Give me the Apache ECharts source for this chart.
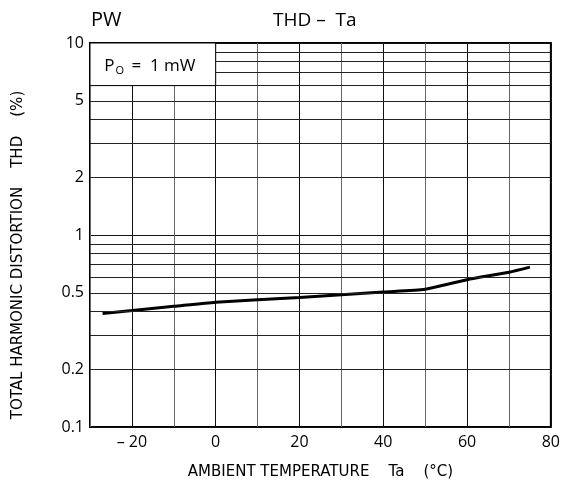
<!DOCTYPE html>
<html lang="en">
<head>
<meta charset="utf-8">
<script src="https://cdn.jsdelivr.net/npm/echarts@6/dist/echarts.min.js"></script>
<title>THD - Ta</title>
</head>
<body>
<style>
    html, body, #main {
        width: 100%;
        height: 100%;
        margin: 0;
        background: #fff;
    }
</style>
<div id="main"></div>
<script>
    // curve
    var temps = [-27, -10, 0, 20, 40, 50, 60, 70, 75];
    var thd = [0.39, 0.425, 0.447, 0.472, 0.505, 0.522, 0.585, 0.64, 0.68];
    var xTicks = [-20, 0, 20, 40, 60, 80];
    var yTicks = [0.1, 0.2, 0.5, 1, 2, 5, 10];
    var minorLines = [0.2, 0.3, 0.4, 0.5, 0.6, 0.7, 0.8, 0.9, 2, 3, 4, 5, 6, 7, 8, 9];

    var font = 'Open Sans';
    var nameFont = 'DejaVu Sans';
    var chart = echarts.init(document.getElementById('main'));

    var points = temps.map(function (t, i) { return [t, thd[i]]; });

    var gridMarks = minorLines.map(function (v) {
        var lbl = yTicks.indexOf(v) >= 0;
        return {
            yAxis: v,
            label: {
                show: lbl,
                position: 'start',
                formatter: String(v),
                distance: 6,
                color: '#000',
                fontFamily: font,
                fontSize: 16
            }
        };
    });

    var option = {
        animation: false,
        title: [{
            text: 'PW',
            left: 86, top: 5,
            textStyle: {fontFamily: font, fontSize: 20, fontWeight: 'normal', color: '#000'}
        }, {
            text: 'THD –  Ta',
            left: 268, top: 6,
            textStyle: {fontFamily: font, fontSize: 19, fontWeight: 'normal', color: '#000'}
        }],
        grid: {
            left: 90, right: 12, top: 43, bottom: 63,
            show: true, borderColor: '#000', borderWidth: 2
        },
        xAxis: {
            type: 'value', min: -30, max: 80, interval: 10,
            name: 'AMBIENT TEMPERATURE    Ta    (°C)',
            nameLocation: 'middle', nameGap: 38,
            nameTextStyle: {fontFamily: nameFont, fontSize: 15, color: '#000'},
            axisLine: {show: false},
            axisTick: {show: false},
            axisLabel: {
                fontFamily: font, fontSize: 16, color: '#000', margin: 7,
                formatter: function (v) {
                    if (xTicks.indexOf(v) < 0) return '';
                    return v < 0 ? '– ' + Math.abs(v) : String(v);
                }
            },
            splitLine: {show: true, lineStyle: {color: ['#666', '#111'], width: 1}}
        },
        yAxis: {
            type: 'log', logBase: 10, min: 0.1, max: 10,
            name: 'TOTAL HARMONIC DISTORTION    THD    (%)',
            nameLocation: 'middle', nameGap: 64,
            nameTextStyle: {fontFamily: nameFont, fontSize: 15, color: '#000', padding: [0, 40, 0, 0]},
            axisLine: {show: false},
            axisTick: {show: false},
            axisLabel: {fontFamily: font, fontSize: 16, color: '#000', margin: 6,
                formatter: function (v) { return String(+v.toPrecision(3)); }},
            splitLine: {show: true, lineStyle: {color: '#111', width: 1}}
        },
        series: [{
            type: 'line',
            data: points,
            smooth: 0.2,
            symbol: 'none',
            lineStyle: {color: '#000', width: 3},
            z: 2,
            markLine: {
                silent: true,
                symbol: 'none',
                animation: false,
                z: 3,
                lineStyle: {color: '#222', width: 1, type: 'solid'},
                emphasis: {disabled: true},
                data: gridMarks
            }
        }, {
            type: 'line',
            data: [],
            z: 4,
            markArea: {
                silent: true,
                z: 10,
                itemStyle: {color: '#fff', borderColor: '#000', borderWidth: 1},
                label: {
                    show: true,
                    position: 'inside',
                    offset: [-3, 2],
                    formatter: '{p|P}{s|O}{p| =  1 mW}',
                    rich: {
                        p: {fontFamily: font, fontSize: 17, color: '#000'},
                        s: {fontFamily: font, fontSize: 11, color: '#000', verticalAlign: 'bottom', padding: [9, 3, 0, 1]}
                    }
                },
                data: [[{coord: [-30, 10]}, {coord: [0, 6]}]]
            }
        }]
    };
    chart.setOption(option);
    window.onresize = chart.resize;
</script>
</body>
</html>
